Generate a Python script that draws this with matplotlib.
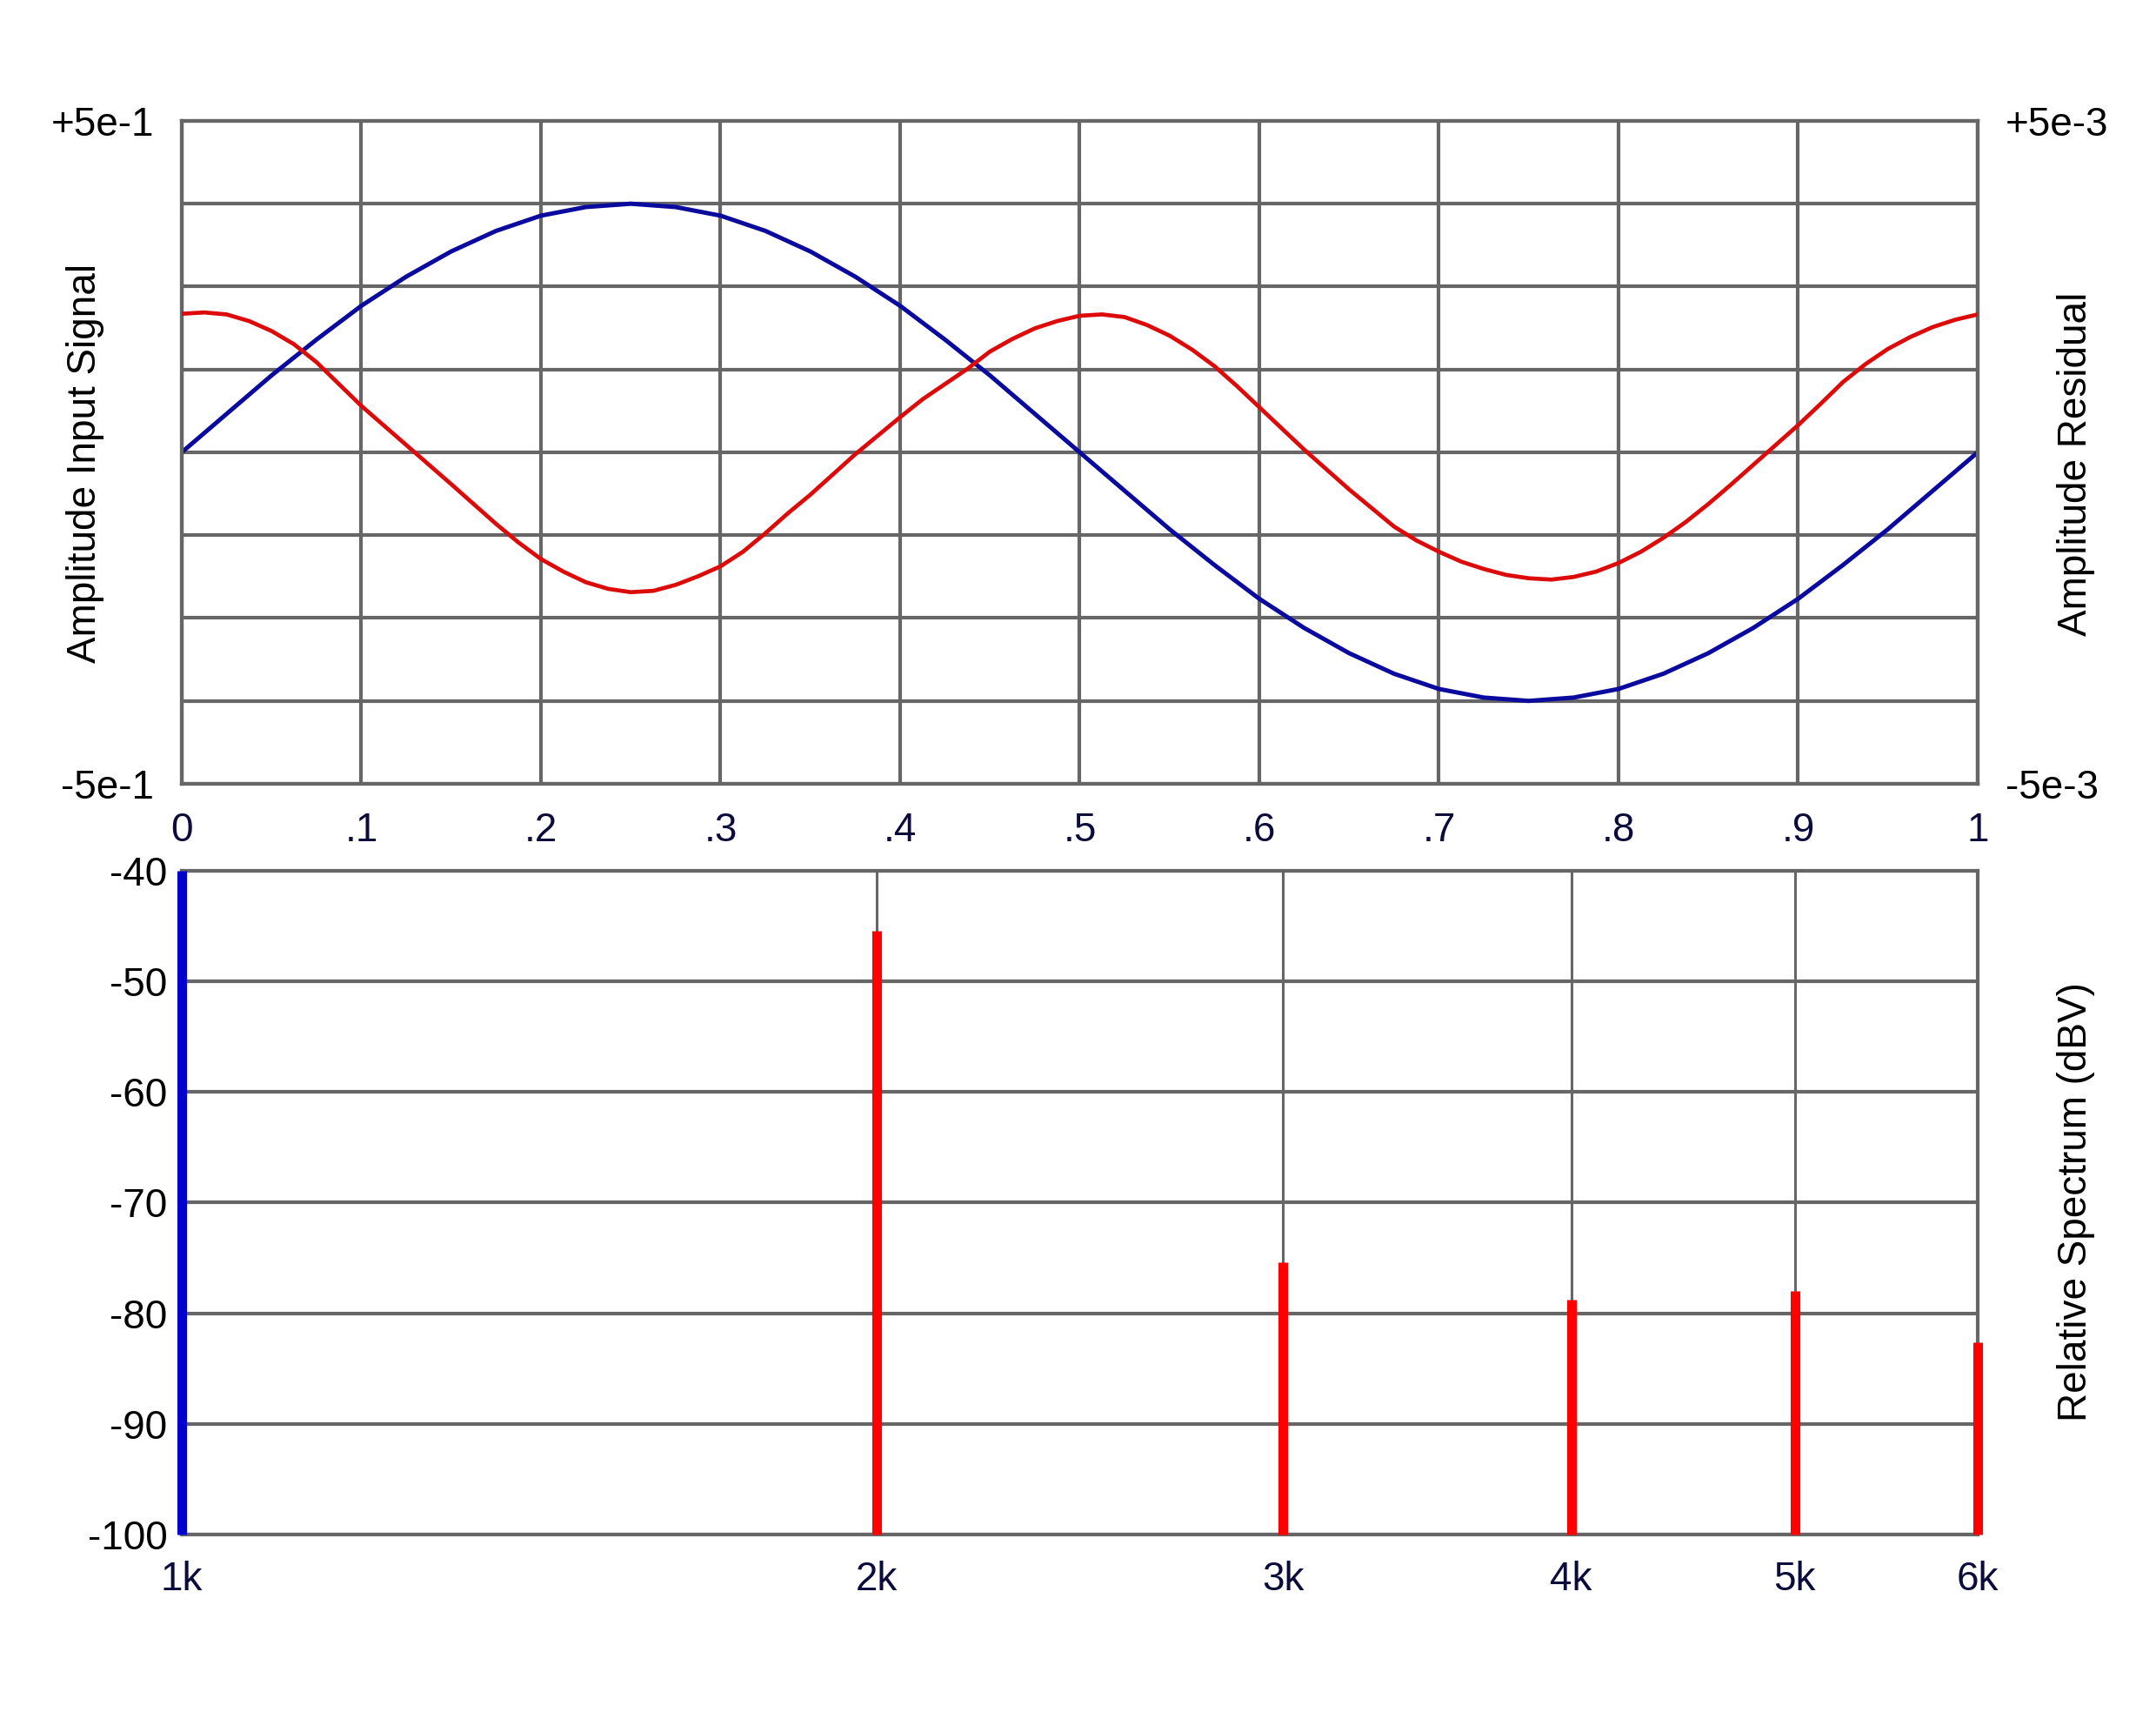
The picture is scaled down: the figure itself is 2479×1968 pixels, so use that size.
"""
Input signal vs. residual (top) and relative harmonic spectrum (bottom).
"""

import matplotlib
matplotlib.use("Agg")
import matplotlib.pyplot as plt
import numpy as np
from matplotlib.ticker import NullLocator

plt.rcParams['font.family'] = ['Liberation Sans', 'DejaVu Sans']

# --- data --------------------------------------------------------------
# one period of the input signal, sampled every 0.025
phase = [0.000, 0.025, 0.050, 0.075, 0.100, 0.125, 0.150, 0.175, 0.200, 0.225,
         0.250, 0.275, 0.300, 0.325, 0.350, 0.375, 0.400, 0.425, 0.450, 0.475,
         0.500, 0.525, 0.550, 0.575, 0.600, 0.625, 0.650, 0.675, 0.700, 0.725,
         0.750, 0.775, 0.800, 0.825, 0.850, 0.875, 0.900, 0.925, 0.950, 0.975,
         1.000]

input_signal = [0.000, 0.058, 0.116, 0.170, 0.221, 0.265, 0.303, 0.334, 0.357, 0.370,
                0.375, 0.370, 0.357, 0.334, 0.303, 0.265, 0.221, 0.170, 0.116, 0.058,
                0.000, -0.058, -0.116, -0.170, -0.221, -0.265, -0.303, -0.334, -0.357, -0.370,
                -0.375, -0.370, -0.357, -0.334, -0.303, -0.265, -0.221, -0.170, -0.116, -0.058,
                0.000]

# residual, read more densely around the bends (units of 1e-3)
residual_phase = [0.000, 0.0125, 0.025, 0.0375, 0.050, 0.0625, 0.075, 0.0875, 0.100,
                  0.125, 0.150, 0.175, 0.1875, 0.200, 0.2125, 0.225, 0.2375, 0.250,
                  0.2625, 0.275, 0.2875, 0.300, 0.3125, 0.325, 0.3375, 0.350, 0.375,
                  0.400, 0.4125, 0.425, 0.4375, 0.450, 0.4625, 0.475, 0.4875, 0.500,
                  0.5125, 0.525, 0.5375, 0.550, 0.5625, 0.575, 0.5875, 0.600, 0.625,
                  0.650, 0.6625, 0.675, 0.6875, 0.700, 0.7125, 0.725, 0.7375, 0.750,
                  0.7625, 0.775, 0.7875, 0.800, 0.8125, 0.825, 0.8375, 0.850, 0.8625,
                  0.875, 0.8875, 0.900, 0.9125, 0.925, 0.9375, 0.950, 0.9625, 0.975,
                  0.9875, 1.000]
residual_e3 = [2.09, 2.11, 2.08, 1.98, 1.83, 1.63, 1.36, 1.03, 0.70,
               0.11, -0.48, -1.08, -1.36, -1.61, -1.80, -1.96, -2.06, -2.11,
               -2.09, -2.00, -1.87, -1.72, -1.50, -1.22, -0.92, -0.64, -0.03,
               0.53, 0.80, 1.03, 1.26, 1.52, 1.71, 1.87, 1.98, 2.06,
               2.08, 2.04, 1.92, 1.76, 1.55, 1.30, 1.00, 0.68, 0.04,
               -0.56, -0.84, -1.12, -1.33, -1.50, -1.65, -1.76, -1.85, -1.90,
               -1.92, -1.88, -1.80, -1.67, -1.50, -1.29, -1.05, -0.78, -0.49,
               -0.19, 0.11, 0.41, 0.73, 1.06, 1.33, 1.56, 1.74, 1.89,
               2.00, 2.08]

harmonic_freqs = [1000, 2000, 3000, 4000, 5000, 6000]
harmonic_db = [0.0, -45.4, -75.4, -78.8, -78.0, -82.6]
harmonic_colors = ['#0000cc', '#ff0000', '#ff0000', '#ff0000', '#ff0000', '#ff0000']

phase_ticks = [0, 0.1, 0.2, 0.3, 0.4, 0.5, 0.6, 0.7, 0.8, 0.9, 1.0]
phase_labels = ['0', '.1', '.2', '.3', '.4', '.5', '.6', '.7', '.8', '.9', '1']
freq_labels = ['1k', '2k', '3k', '4k', '5k', '6k']
db_ticks = [-100, -90, -80, -70, -60, -50, -40]

GRID = '#666666'
TICK_NAVY = '#0c0c3c'
FS = 33
GRID_LW = 3.0


def style_spines(ax, lw=GRID_LW):
    for sp in ax.spines.values():
        sp.set_color(GRID)
        sp.set_linewidth(lw)


def draw_signal(fig):
    ax = fig.add_axes([0.0843, 0.5422, 0.833, 0.3872])
    ax.set_xlim(0, 1)
    ax.set_ylim(-0.5, 0.5)

    # grid
    ax.set_xticks(phase_ticks)
    ax.set_xticklabels(phase_labels)
    ax.set_yticks([-0.5, 0.5])
    ax.set_yticklabels(['-5e-1', '+5e-1'])
    ax.set_yticks(np.arange(-0.5, 0.51, 0.125), minor=True)
    ax.xaxis.set_minor_locator(NullLocator())
    ax.grid(axis='x', which='major', color=GRID, lw=GRID_LW)
    ax.grid(axis='y', which='minor', color=GRID, lw=GRID_LW)
    ax.set_axisbelow(True)

    ax.tick_params(axis='both', which='both', length=0, labelsize=FS)
    ax.tick_params(axis='x', pad=23, labelcolor=TICK_NAVY)
    ax.tick_params(axis='y', pad=23)
    style_spines(ax)

    ax.plot(phase, input_signal, color='#0a0a9e', lw=3.6, zorder=3)
    ax.set_ylabel('Amplitude Input Signal', fontsize=FS)
    ax.yaxis.set_label_coords(-0.0537, 0.483)
    ax.yaxis.label.set_verticalalignment('center')

    # residual on the right-hand scale
    ax2 = ax.twinx()
    ax2.set_ylim(-5e-3, 5e-3)
    ax2.set_yticks([-5e-3, 5e-3])
    ax2.set_yticklabels(['-5e-3', '+5e-3'])
    ax2.tick_params(axis='y', length=0, pad=23, labelsize=FS)
    style_spines(ax2)
    ax2.plot(residual_phase, np.array(residual_e3) * 1e-3, color='#dd0a0a',
             lw=3.4, zorder=3, solid_joinstyle='round')
    ax2.set_ylabel('Amplitude Residual', fontsize=FS)
    ax2.yaxis.set_label_coords(1.0547, 0.483)
    ax2.yaxis.label.set_verticalalignment('center')


def draw_spectrum(fig):
    ax = fig.add_axes([0.0843, 0.1037, 0.833, 0.3877])
    ax.set_xscale('log')
    ax.set_xlim(1000, 6000)
    ax.set_ylim(-100, -40)

    ax.set_xticks(harmonic_freqs)
    ax.set_xticklabels(freq_labels)
    ax.xaxis.set_minor_locator(NullLocator())
    ax.set_yticks(db_ticks)
    ax.set_yticklabels([str(v) for v in db_ticks])

    ax.grid(axis='y', color=GRID, lw=GRID_LW)
    ax.grid(axis='x', color=GRID, lw=2.2)
    ax.set_axisbelow(True)
    ax.tick_params(axis='both', length=0, labelsize=FS)
    ax.tick_params(axis='x', pad=22, labelcolor=TICK_NAVY)
    ax.tick_params(axis='y', pad=12)
    style_spines(ax)

    bottom, top = ax.get_ylim()
    for f, db, c in zip(harmonic_freqs, harmonic_db, harmonic_colors):
        ax.vlines(f, bottom, min(db, top), color=c, lw=8.0, clip_on=False, zorder=4)

    ax.yaxis.set_label_position('right')
    ax.set_ylabel('Relative Spectrum (dBV)', fontsize=FS)
    ax.yaxis.set_label_coords(1.0547, 0.5007)
    ax.yaxis.label.set_verticalalignment('center')


def main():
    fig = plt.figure(figsize=(24.79, 19.68), dpi=100)
    draw_signal(fig)
    draw_spectrum(fig)
    fig.savefig('out.png', dpi=100, facecolor='white')
    plt.close(fig)


if __name__ == "__main__":
    main()
